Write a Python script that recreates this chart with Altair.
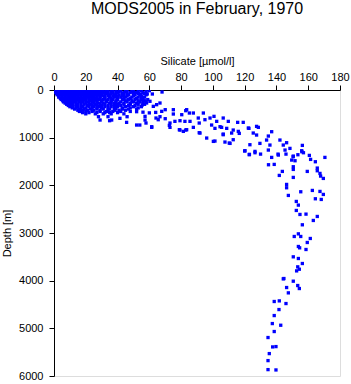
import altair as alt
import pandas as pd

# ---- Surface blob (rows of equal depth, silicate values)
blob_depths = [15, 30, 50, 75, 100, 125, 150, 175, 200, 225, 250, 275, 300, 325,
               350, 375, 400, 425, 450, 475, 500, 560]
blob_sil = [
    [0, 2, 4, 6, 8, 10, 12, 14, 16, 18, 20, 22, 24, 26, 28, 30, 33, 36, 39, 42, 46, 50, 55, 60],
    [1, 3, 5, 7, 9, 11, 13, 15, 17, 19, 21, 23, 25, 27, 29, 31, 34, 37, 41, 45, 49, 53, 58],
    [1, 3, 5, 7, 9, 11, 13, 15, 17, 19, 21, 23, 25, 27, 29, 31, 34, 37, 40, 44, 48, 52, 56],
    [1.5, 3.5, 5.5, 7.5, 9.5, 11.5, 13.5, 15.5, 17.5, 19.5, 21.5, 23.5, 25.5, 27.5, 29.5,
     33, 36, 39, 43, 46, 50, 53, 57],
    [2, 4, 6, 8, 10, 12, 14, 16, 18, 20, 22, 24, 26, 28, 30, 32, 35, 38, 41, 44, 47, 51, 54, 58],
    [3, 5, 7, 9, 11, 13, 15, 17, 19, 21, 23, 25, 27, 29, 31, 34, 37, 40, 43, 46, 50, 55],
    [3, 5, 7, 9, 11, 13, 15, 17, 19, 21, 23, 25, 27, 29, 32, 35, 38, 42, 45, 49, 53, 57],
    [4, 6, 8, 10, 12, 14, 16, 18, 20, 22, 24, 26, 29, 32, 36, 40, 44, 48, 52, 56],
    [4.5, 6.5, 8.5, 10.5, 12.5, 15, 17, 19, 22, 24, 26, 28, 31, 34, 37, 40, 43, 47, 51, 55, 59],
    [5.5, 7.5, 9.5, 11.5, 14, 16, 18, 20, 23, 25, 27, 30, 33, 36, 39, 45, 49, 53, 57],
    [6, 8, 10, 13, 16, 18, 21, 24, 27, 30, 33, 36, 39, 42, 46, 50, 54, 58],
    [7, 9, 11, 14, 17, 20, 22, 25, 28, 31, 35, 38, 41, 44, 48, 52, 56],
    [8, 10, 12, 15, 19, 23, 26, 29, 32, 36, 40, 44, 48, 53, 57],
    [9, 11, 14, 17, 21, 24, 27, 30, 34, 38, 42, 47, 51],
    [10, 12, 15, 18, 22, 25, 28, 32, 36, 40, 45, 50, 55],
    [11.5, 14, 17, 20, 24, 27, 30, 34, 38, 43, 48, 53],
    [13, 16, 19, 23, 27, 31, 35, 39, 43, 47, 52],
    [15, 18, 21, 25, 29, 34, 38, 41, 45],
    [16, 20, 24, 29, 33, 37, 42, 48],
    [18, 22, 27, 32, 35, 40],
    [20, 26, 31, 36, 44],
    [28, 34, 46],
]

# ---- Upper / intermediate waters
mid_sil = [54.6, 58.7, 61.9, 68, 55, 56, 55.5, 58.3, 60.4, 62.5, 64.6, 66.7, 67.8, 70,
           52, 56, 60, 64, 57.3, 57.9, 61.5, 64.2, 65.6, 70, 75.1, 75.1, 80.4, 83.5,
           85.2, 87.7, 94, 73, 72.6, 76.1, 79.3, 82.4, 85.6, 78.9, 81.4, 83.5, 87.7,
           90.8, 91.4, 95, 98.2, 100.7, 102.4, 105.5, 106.5, 109.7, 111.8, 115.6, 119.1,
           116, 91.9, 96.1, 100.3, 106.5, 107.6, 110.3, 112.8, 123.3, 120.2, 122.9, 126.5,
           122.3, 127.5, 125.4, 82.9, 73, 79.3, 82.9, 91.4, 99.2, 101.3, 104.5, 108.7,
           112.8, 116.6, 122.7, 128.6, 101.3, 106.5, 110.8, 127.5, 129.6, 134.9, 133.8,
           137, 135.9, 142.2, 144.3, 146.4, 145.4, 148.5, 150.6, 156.3, 155.9, 141.2,
           134.9, 41.5, 45.7, 52, 54, 61.5, 66.7, 36.3, 57.3, 29, 35]
mid_depth = [84, 84, 84, 42, 170, 240, 315, 273, 237, 343, 308, 273, 448, 413,
             455, 465, 480, 470, 553, 693, 784, 588, 623, 602, 413, 504, 518, 413,
             483, 483, 483, 693, 742, 658, 644, 658, 658, 833, 868, 833, 784,
             588, 693, 623, 588, 553, 658, 784, 588, 658, 903, 679, 679,
             868, 903, 1008, 1078, 938, 1092, 1113, 1043, 1148, 1274, 1358, 1288,
             798, 763, 903, 434, 784, 840, 840, 896, 735, 805, 770, 805,
             840, 910, 805, 784, 1071, 924, 1120, 945, 1120, 966, 1050,
             875, 1155, 1050, 1155, 1106, 1260, 1225, 1386, 1162, 1274, 1365,
             1260, 595, 679, 735, 735, 770, 560, 630, 630, 630, 644]

# ---- Deep waters
deep_sil = [120, 123, 126.5, 130, 137, 141, 146, 150.5, 153.5, 156, 157, 160.7, 161.5,
            164.5, 170.5, 135, 138.6, 149.6, 151.7, 150.6, 150.6, 143.7, 141.8, 150.6,
            159.4, 165.7, 165.7, 167.4, 167.8, 169.5, 146.4, 146.4, 155.3, 147.5, 162.6,
            167.4, 169.5, 164.5, 168.2, 152.5, 153.8, 152.5, 154.8, 158.6, 165.7, 163.2,
            156.3, 153.8, 151.2, 155.3, 161.3, 159.4, 153.8, 154.6, 158.6, 150.6, 153.8,
            156.3, 153.4, 154.4, 152.7, 144.3, 150.6, 153.4, 146.4, 154.4,
            144.7, 147.5, 138.6, 141.8, 146, 141.6, 138.6, 137.4, 142.7, 138.6, 134.7,
            137.6, 139.7, 135.5, 134.7, 134.7, 139.7]
deep_depth = [1280, 1350, 1316, 1345, 1414, 1345, 1345, 1400, 1358, 1295, 1316, 1372, 1456,
              1505, 1414, 1568, 1561, 1470, 1484, 1610, 1666, 1708, 1792, 1834,
              1708, 1638, 1694, 1750, 1806, 1855, 1981, 2051, 2135, 2212, 2107,
              2128, 2191, 2282, 2296, 2338, 2415, 2527, 2611, 2604, 2653, 2737,
              2828, 3018, 3073, 3073, 3115, 3199, 3283, 3311, 3346, 3500, 3535,
              3640, 3710, 3760, 3795, 3962, 4011, 4102, 4144, 4165,
              3955, 4256, 4437, 4424, 4480, 4606, 4732, 4900, 4935, 5067, 5193,
              5390, 5383, 5530, 5677, 5866, 5873]

x_ticks = [0, 20, 40, 60, 80, 100, 120, 140, 160, 180]
y_ticks = [0, 1000, 2000, 3000, 4000, 5000, 6000]

sil_all, dep_all = [], []
for d, row in zip(blob_depths, blob_sil):
    for s in row:
        sil_all.append(s)
        dep_all.append(d)
sil_all += mid_sil + deep_sil
dep_all += mid_depth + deep_depth

df = pd.DataFrame({"silicate": sil_all, "depth": dep_all})

FONT = "Liberation Sans"

chart = alt.Chart(df).mark_square(size=11, color="#0000ff", opacity=1, clip=True).encode(
    x=alt.X("silicate:Q",
            scale=alt.Scale(domain=[0, 180], nice=False, zero=False),
            axis=alt.Axis(orient="top", values=x_ticks, title="Silicate [µmol/l]",
                          grid=False, tickSize=5, labelPadding=3, titlePadding=5,
                          labelFontSize=11, titleFontSize=11, labelFont=FONT, titleFont=FONT,
                          titleFontWeight="normal", labelColor="black", titleColor="black",
                          domainColor="black", tickColor="black", labelFlush=False)),
    y=alt.Y("depth:Q",
            scale=alt.Scale(domain=[0, 6000], reverse=True, nice=False, zero=False),
            axis=alt.Axis(orient="left", values=y_ticks, title="Depth [m]", format="d",
                          grid=False, tickSize=5, labelPadding=6, titlePadding=6,
                          labelFontSize=11, titleFontSize=11, labelFont=FONT, titleFont=FONT,
                          titleFontWeight="normal", labelColor="black", titleColor="black",
                          domainColor="black", tickColor="black", labelFlush=False)),
).properties(
    width=286, height=286,
    title=alt.TitleParams("MODS2005 in February, 1970", fontSize=16, fontWeight="normal",
                          font=FONT, color="black", anchor="middle", offset=38),
    autosize=alt.AutoSizeParams(type="none"),
    padding={"left": 54, "top": 90, "right": 11, "bottom": 8},
).configure_view(stroke=None).configure(background="white")

chart.save("out.html", embed_options={"renderer": "svg", "actions": False})
